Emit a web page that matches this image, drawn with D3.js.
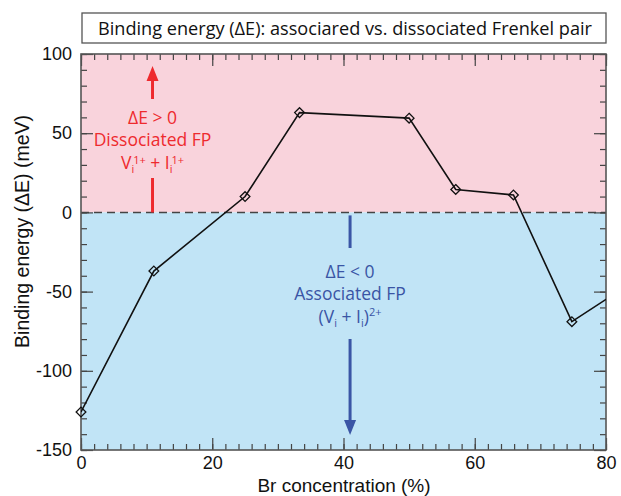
<!DOCTYPE html>
<html lang="en">
<head>
  <meta charset="UTF-8">
  <title>Binding energy</title>
  <script src="https://d3js.org/d3.v7.min.js"></script>
  <style>
    body { margin: 0; background: #fff; }
    svg text { font-family: "Liberation Sans", Arial, sans-serif; }
    .myriad { font-family: "Open Sans", "Noto Sans", sans-serif; }
  </style>
</head>
<body>
<div id="chart"></div>
<script>
  // Daten
  var brConc = [0, 11.1, 25, 33.3, 50, 57.1, 65.9, 74.8, 83.3];
  var bindingEnergy = [-126, -37, 10, 63, 59.5, 14.5, 11, -69, -46];
  var xTicks = [0, 20, 40, 60, 80];
  var yTicks = [-150, -100, -50, 0, 50, 100];

  var W = 621, H = 496;
  var margin = { top: 54, right: 15, bottom: 46, left: 81 };
  var width = W - margin.left - margin.right;
  var height = H - margin.top - margin.bottom;

  var svg = d3.select('#chart').append('svg')
    .attr('width', W).attr('height', H);

  var g = svg.append('g')
    .attr('transform', 'translate(' + margin.left + ',' + margin.top + ')');

  var x = d3.scaleLinear().domain([0, 80]).range([0, width]);
  var y = d3.scaleLinear().domain([-150, 100]).range([height, 0]);

  // Hintergrund oben / unten
  g.append('rect').attr('x', 0).attr('y', 0)
    .attr('width', width).attr('height', y(0))
    .attr('fill', '#f9d3dc');
  g.append('rect').attr('x', 0).attr('y', y(0))
    .attr('width', width).attr('height', height - y(0))
    .attr('fill', '#c1e4f6');

  // Nulllinie gestrichelt
  g.append('line')
    .attr('x1', 0).attr('x2', width)
    .attr('y1', y(0)).attr('y2', y(0))
    .attr('stroke', '#444').attr('stroke-width', 1.5)
    .attr('stroke-dasharray', '8,5');

  // Achsen mit Ticks nach innen, auf allen Seiten
  function styleAxis(sel) {
    sel.select('.domain').remove();
    sel.selectAll('line').attr('stroke', '#444').attr('stroke-width', 1.2);
  }
  var plain = function(d) { return String(d); }; // Bindestrich statt Minuszeichen
  var xMinor = d3.range(0, 81, 2);
  var yMinor = d3.range(-150, 101, 10);

  g.append('g').attr('transform', 'translate(0,' + height + ')')
    .call(d3.axisBottom(x).tickValues(xMinor).tickSize(-6).tickFormat(''))
    .call(styleAxis);
  g.append('g').attr('transform', 'translate(0,' + height + ')')
    .call(d3.axisBottom(x).tickValues(xTicks).tickSize(-12).tickPadding(6).tickFormat(plain))
    .call(styleAxis)
    .selectAll('text').attr('font-size', 18).attr('fill', '#111');
  g.append('g')
    .call(d3.axisTop(x).tickValues(xMinor).tickSize(-6).tickFormat(''))
    .call(styleAxis);
  g.append('g')
    .call(d3.axisTop(x).tickValues(xTicks).tickSize(-12).tickFormat(''))
    .call(styleAxis);

  g.append('g')
    .call(d3.axisLeft(y).tickValues(yMinor).tickSize(-6).tickFormat(''))
    .call(styleAxis);
  g.append('g')
    .call(d3.axisLeft(y).tickValues(yTicks).tickSize(-12).tickPadding(9).tickFormat(plain))
    .call(styleAxis)
    .selectAll('text').attr('font-size', 18).attr('fill', '#111');
  g.append('g').attr('transform', 'translate(' + width + ',0)')
    .call(d3.axisRight(y).tickValues(yMinor).tickSize(-6).tickFormat(''))
    .call(styleAxis);
  g.append('g').attr('transform', 'translate(' + width + ',0)')
    .call(d3.axisRight(y).tickValues(yTicks).tickSize(-12).tickFormat(''))
    .call(styleAxis);

  // Rahmen
  g.append('rect').attr('width', width).attr('height', height)
    .attr('fill', 'none').attr('stroke', '#555').attr('stroke-width', 1.6);

  // Datenlinie (abgeschnitten am Rand)
  svg.append('defs').append('clipPath').attr('id', 'clip')
    .append('rect').attr('width', width).attr('height', height);

  var dataset = brConc.map(function(d, i) {
    return { x: d, y: bindingEnergy[i] };
  });

  var line = d3.line()
    .x(function(d) { return x(d.x); })
    .y(function(d) { return y(d.y); });

  var plot = g.append('g').attr('clip-path', 'url(#clip)');
  plot.append('path').datum(dataset)
    .attr('fill', 'none').attr('stroke', '#111').attr('stroke-width', 1.6)
    .attr('d', line);

  g.selectAll('.marker')
    .data(dataset.filter(function(d) { return d.x <= 80; }))
    .enter().append('path')
    .attr('class', 'marker')
    .attr('d', d3.symbol().type(d3.symbolDiamond2).size(60))
    .attr('transform', function(d) { return 'translate(' + x(d.x) + ',' + y(d.y) + ')'; })
    .attr('fill', 'none').attr('stroke', '#111').attr('stroke-width', 1.3);

  // Pfeile
  function arrow(xp, y1, y2, color) {
    var dir = y2 > y1 ? 1 : -1;
    g.append('line').attr('x1', xp).attr('x2', xp)
      .attr('y1', y1).attr('y2', y2 - dir * 12)
      .attr('stroke', color).attr('stroke-width', 3);
    g.append('path')
      .attr('d', 'M' + (xp - 6) + ',' + (y2 - dir * 15) + 'L' + xp + ',' + y2 + 'L' + (xp + 6) + ',' + (y2 - dir * 15) + 'Z')
      .attr('fill', color);
  }

  // Annotation oben (rot)
  var red = '#ee2a2e';
  var ax1 = x(10.9);
  arrow(ax1, 45, 12, red);
  g.append('line').attr('x1', ax1).attr('x2', ax1)
    .attr('y1', 124).attr('y2', y(0))
    .attr('stroke', red).attr('stroke-width', 3);

  var t1 = g.append('text').attr('class', 'myriad')
    .attr('text-anchor', 'middle').attr('fill', red).attr('font-size', 17.5);
  t1.append('tspan').attr('x', ax1).attr('y', 70).text('ΔE > 0');
  t1.append('tspan').attr('x', ax1).attr('y', 92).text('Dissociated FP');
  var l3 = g.append('text').attr('class', 'myriad')
    .attr('text-anchor', 'middle').attr('fill', red).attr('font-size', 17.5)
    .attr('x', ax1).attr('y', 115);
  l3.append('tspan').text('V');
  l3.append('tspan').attr('font-size', 11).attr('dy', 4).text('i');
  l3.append('tspan').attr('font-size', 11).attr('dy', -9.5).attr('dx', -1).text('1+');
  l3.append('tspan').attr('dy', 5.5).text(' + I');
  l3.append('tspan').attr('font-size', 11).attr('dy', 4).text('i');
  l3.append('tspan').attr('font-size', 11).attr('dy', -9.5).attr('dx', -1).text('1+');

  // Annotation unten (blau)
  var blue = '#3a55a5';
  var ax2 = x(41);
  g.append('line').attr('x1', ax2).attr('x2', ax2)
    .attr('y1', y(0) + 3).attr('y2', 194)
    .attr('stroke', blue).attr('stroke-width', 3);
  arrow(ax2, 285, 381, blue);

  var t2 = g.append('text').attr('class', 'myriad')
    .attr('text-anchor', 'middle').attr('fill', blue).attr('font-size', 17.5);
  t2.append('tspan').attr('x', ax2).attr('y', 224).text('ΔE < 0');
  t2.append('tspan').attr('x', ax2).attr('y', 246).text('Associated FP');
  var l4 = g.append('text').attr('class', 'myriad')
    .attr('text-anchor', 'middle').attr('fill', blue).attr('font-size', 17.5)
    .attr('x', ax2).attr('y', 269);
  l4.append('tspan').text('(V');
  l4.append('tspan').attr('font-size', 11).attr('dy', 4).text('i');
  l4.append('tspan').attr('dy', -4).text(' + I');
  l4.append('tspan').attr('font-size', 11).attr('dy', 4).text('i');
  l4.append('tspan').attr('dy', -4).text(')');
  l4.append('tspan').attr('font-size', 11).attr('dy', -7).text('2+');

  // Titel-Box
  svg.append('rect').attr('x', 82).attr('y', 13).attr('width', 524).attr('height', 30)
    .attr('fill', '#fff').attr('stroke', '#555').attr('stroke-width', 1.3);
  svg.append('text').attr('class', 'myriad')
    .attr('x', 345).attr('y', 34.5).attr('text-anchor', 'middle')
    .attr('font-size', 18).attr('fill', '#111')
    .attr('textLength', 494).attr('lengthAdjust', 'spacingAndGlyphs')
    .text('Binding energy (ΔE): associared vs. dissociated Frenkel pair');

  // Achsenbeschriftungen
  svg.append('text').attr('x', 344).attr('y', 491.5).attr('text-anchor', 'middle')
    .attr('font-size', 19).attr('fill', '#111').text('Br concentration (%)');
  svg.append('text')
    .attr('transform', 'translate(29,' + (margin.top + y(-12)) + ') rotate(-90)')
    .attr('text-anchor', 'middle')
    .attr('font-size', 19.5).attr('fill', '#111').text('Binding energy (ΔE) (meV)');
</script>
</body>
</html>
